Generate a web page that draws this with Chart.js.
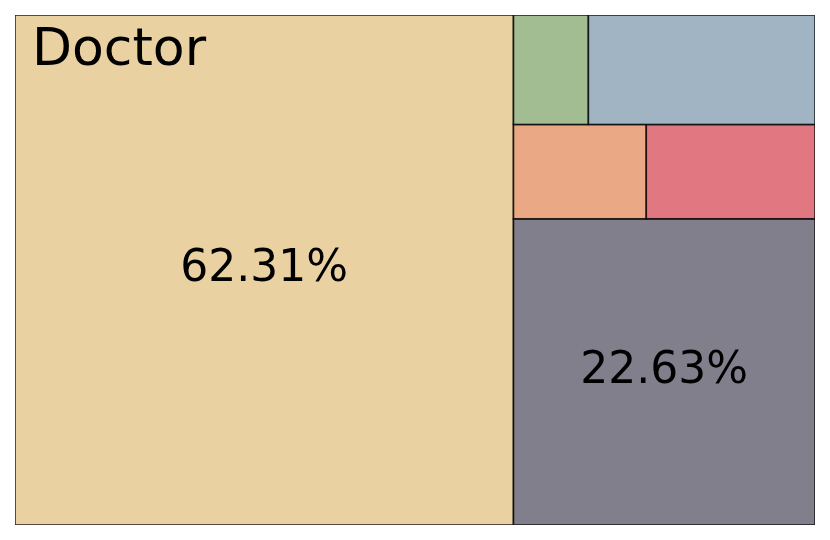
<!DOCTYPE html>
<html>
<head>
<meta charset="utf-8">
<script src="https://cdn.jsdelivr.net/npm/chart.js@4"></script>
<style>
  body { margin: 0; background: #fff; }
  canvas { display: block; }
</style>
</head>
<body>
<canvas id="chart" width="830" height="540"></canvas>
<script>
// treemap cells, in the order squarify lays them out
const categories = ['Doctor', '', '', '', '', ''];
const shares = [62.31, 22.63, 3.07, 3.90, 2.01, 6.08];
const colors = ['#e9d1a1', '#827f8d', '#eaa884', '#e17780', '#a3bd92', '#a0b4c3'];

// squarify on a 100x100 box (y grows upward, like matplotlib)
function worstRatio(sizes, dx, dy) {
    const total = sizes.reduce((a, b) => a + b, 0);
    let worst = 0;
    if (dx >= dy) {
        const w = total / dy;
        sizes.forEach(s => { const h = s / w; worst = Math.max(worst, w / h, h / w); });
    } else {
        const h = total / dx;
        sizes.forEach(s => { const w = s / h; worst = Math.max(worst, w / h, h / w); });
    }
    return worst;
}

function layoutRow(sizes, x, y, dx, dy) {
    const total = sizes.reduce((a, b) => a + b, 0);
    const rects = [];
    if (dx >= dy) {
        const w = total / dy;
        let cy = y;
        sizes.forEach(s => { const h = s / w; rects.push({ x: x, y: cy, dx: w, dy: h }); cy += h; });
        return { rects: rects, rest: [x + w, y, dx - w, dy] };
    }
    const h = total / dx;
    let cx = x;
    sizes.forEach(s => { const w = s / h; rects.push({ x: cx, y: y, dx: w, dy: h }); cx += w; });
    return { rects: rects, rest: [x, y + h, dx, dy - h] };
}

function squarify(sizes, x, y, dx, dy) {
    if (sizes.length === 0) return [];
    let i = 1;
    while (i < sizes.length && worstRatio(sizes.slice(0, i), dx, dy) >= worstRatio(sizes.slice(0, i + 1), dx, dy)) {
        i++;
    }
    const out = layoutRow(sizes.slice(0, i), x, y, dx, dy);
    return out.rects.concat(squarify(sizes.slice(i), ...out.rest));
}

const totalShare = shares.reduce((a, b) => a + b, 0);
const cells = squarify(shares.map(v => v / totalShare * 10000), 0, 0, 100, 100);

const treemapPlugin = {
    id: 'treemap',
    beforeDatasetsDraw(chart) {
        const ctx = chart.ctx;
        const xs = chart.scales.x;
        const ys = chart.scales.y;
        const area = chart.chartArea;
        ctx.save();
        ctx.beginPath();
        ctx.rect(area.left, area.top, area.right - area.left, area.bottom - area.top);
        ctx.clip();
        cells.forEach((c, i) => {
            const left = xs.getPixelForValue(c.x);
            const right = xs.getPixelForValue(c.x + c.dx);
            const top = ys.getPixelForValue(c.y + c.dy);
            const bottom = ys.getPixelForValue(c.y);
            ctx.fillStyle = colors[i];
            ctx.fillRect(left, top, right - left, bottom - top);
            ctx.lineWidth = 1.6;
            ctx.strokeStyle = 'rgba(0, 0, 0, 0.8)';
            ctx.strokeRect(left, top, right - left, bottom - top);
        });
        ctx.restore();

        ctx.save();
        ctx.fillStyle = '#000';
        ctx.textBaseline = 'alphabetic';
        cells.forEach((c, i) => {
            const left = xs.getPixelForValue(c.x);
            const right = xs.getPixelForValue(c.x + c.dx);
            const top = ys.getPixelForValue(c.y + c.dy);
            const bottom = ys.getPixelForValue(c.y);
            if (categories[i]) {
                ctx.font = '52px "DejaVu Sans"';
                ctx.textAlign = 'left';
                ctx.fillText(categories[i], left + 17, top + 50);
            }
            if (shares[i] > 10) {
                ctx.font = '44px "DejaVu Sans"';
                ctx.textAlign = 'center';
                ctx.fillText(shares[i].toFixed(2) + '%', (left + right) / 2, (top + bottom) / 2 + 11);
            }
        });
        ctx.restore();
    }
};

new Chart(document.getElementById('chart'), {
    type: 'scatter',
    data: { datasets: [{ data: [] }] },
    options: {
        responsive: false,
        animation: false,
        layout: { padding: { left: 15, right: 15, top: 15, bottom: 15 } },
        plugins: { legend: { display: false }, tooltip: { enabled: false } },
        scales: {
            x: { type: 'linear', min: 0, max: 100, display: false },
            y: { type: 'linear', min: 0, max: 100, display: false }
        }
    },
    plugins: [treemapPlugin]
});
</script>
</body>
</html>
